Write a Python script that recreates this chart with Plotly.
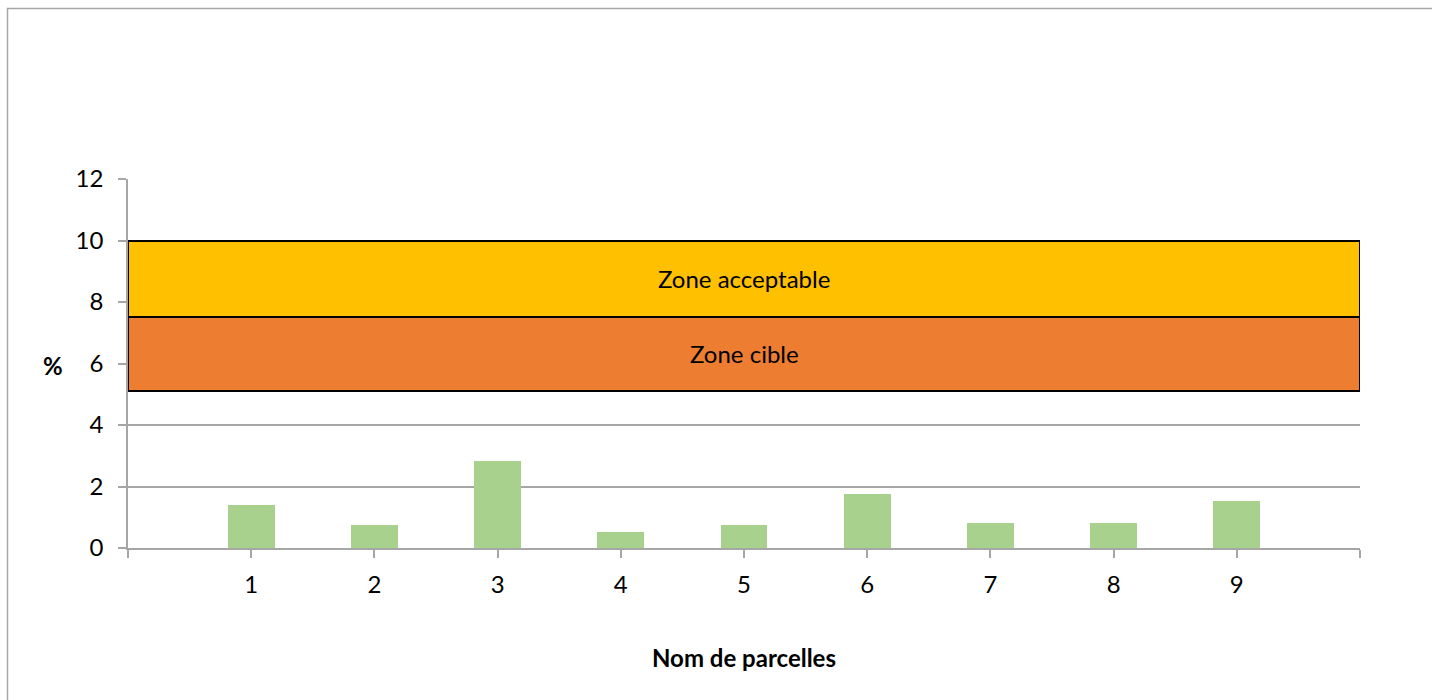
import plotly.graph_objects as go

categories = ["1", "2", "3", "4", "5", "6", "7", "8", "9"]
values = [1.40, 0.74, 2.83, 0.52, 0.74, 1.75, 0.81, 0.81, 1.53]

zone_names = ["Zone cible", "Zone acceptable"]
zone_bottoms = [5.12, 7.5]
zone_tops = [7.5, 10.0]
zone_colors = ["#ED7D31", "#FFC000"]

y_ticks = [0, 2, 4, 6, 8, 10, 12]

x_pos = [int(c) for c in categories]
x_max = len(categories) + 1
x_tickvals = [0] + x_pos + [x_max]
x_ticktext = [""] + categories + [""]

FONT = "Lato, Carlito, Calibri, sans-serif"
GRID = "#A6A6A6"
FS = 24

fig = go.Figure()

for name, y0, y1, col in zip(zone_names, zone_bottoms, zone_tops, zone_colors):
    fig.add_trace(go.Bar(
        x=[x_max / 2], y=[y1 - y0], base=[y0], width=[x_max],
        marker=dict(color=col, line=dict(color="black", width=2)),
        name=name, showlegend=False, hoverinfo="name",
    ))
    fig.add_annotation(xref="x", yref="y", x=x_max / 2, y=(y0 + y1) / 2, text=name,
                       showarrow=False, font=dict(family=FONT, size=FS, color="black"))

fig.add_trace(go.Bar(
    x=x_pos, y=values, width=0.38,
    marker=dict(color="#A9D18E", line=dict(width=0)),
    showlegend=False, hoverinfo="x+y",
))

# outer chart border
fig.add_shape(type="rect", xref="paper", yref="paper",
              x0=(7.5 - 128) / 1232, x1=1.2, y0=-0.6, y1=(548 - 8.5) / 369,
              line=dict(color="#A6A6A6", width=1.5), fillcolor="rgba(0,0,0,0)", layer="above")

fig.add_annotation(xref="paper", yref="paper", x=0.5, y=(548 - 657) / 369, text="<b>Nom de parcelles</b>",
                   showarrow=False, xanchor="center", yanchor="middle",
                   font=dict(family=FONT, size=FS, color="black"))
fig.add_annotation(xref="paper", yref="paper", x=(53 - 128) / 1232, y=(548 - 365) / 369, text="<b>%</b>",
                   showarrow=False, xanchor="center", yanchor="middle",
                   font=dict(family=FONT, size=FS, color="black"))

fig.update_layout(
    width=1432, height=700,
    margin=dict(l=128, r=72, t=179, b=152, pad=0),
    plot_bgcolor="white", paper_bgcolor="white",
    font=dict(family=FONT, size=FS, color="black"),
    barmode="overlay", bargap=0,
)
fig.update_xaxes(
    range=[0, x_max], tickvals=x_tickvals, ticktext=x_ticktext,
    showgrid=False, showline=True, linecolor=GRID, linewidth=1.5,
    ticks="outside", ticklen=8, tickcolor=GRID, tickwidth=1.5,
    tickfont=dict(family=FONT, size=FS, color="black"), zeroline=False,
    ticklabelstandoff=6,
)
fig.update_yaxes(
    range=[0, 12], tickvals=y_ticks,
    showgrid=True, gridcolor=GRID, gridwidth=1.5,
    showline=True, linecolor=GRID, linewidth=1.5,
    ticks="outside", ticklen=8, tickcolor=GRID, tickwidth=1.5,
    tickfont=dict(family=FONT, size=FS, color="black"), zeroline=False,
    ticklabelstandoff=10,
)

fig.write_html("out.html")
